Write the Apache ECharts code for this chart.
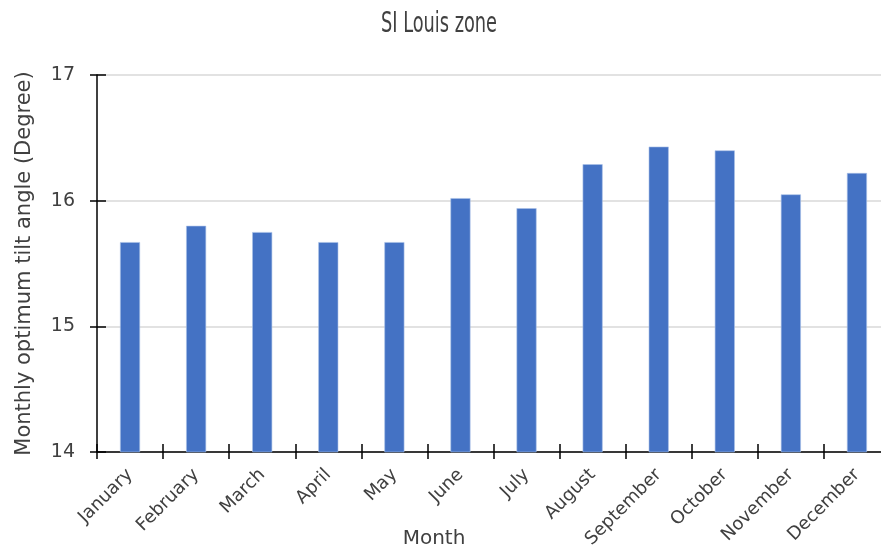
<!DOCTYPE html>
<html>
<head>
<meta charset="utf-8">
<script src="https://cdn.jsdelivr.net/npm/echarts@6/dist/echarts.min.js"></script>
<style>html,body{margin:0;padding:0;background:#fff;}#c{width:881px;height:554px;}</style>
</head>
<body>
<div id="c"></div>
<script>
const titleText = 'SI Louis zone';
const months = ['January','February','March','April','May','June','July','August','September','October','November','December'];
const tiltAngles = [15.67, 15.80, 15.75, 15.67, 15.67, 16.02, 15.94, 16.29, 16.43, 16.40, 16.05, 16.22];
const yMin = 14, yMax = 17, yStep = 1;
const xName = 'Month';
const yName = 'Monthly optimum tilt angle (Degree)';

const txt = '#404040';
const font = 'DejaVu Sans';

// condensed title: measure and squeeze horizontally
const titleFont = '29px "DejaVu Sans Condensed", "DejaVu Sans", sans-serif';
const cv = document.createElement('canvas').getContext('2d');
cv.font = titleFont;
const titleW = cv.measureText(titleText).width;
const titleScale = 116 / titleW;

const chart = echarts.init(document.getElementById('c'), null, {renderer: 'canvas'});
chart.setOption({
  animation: false,
  backgroundColor: '#fff',
  graphic: [{
    type: 'text', x: 439, y: 24, scaleX: titleScale, scaleY: 1,
    style: {text: titleText, font: titleFont, fill: txt, align: 'center', verticalAlign: 'middle'}
  }, {
    type: 'text', x: 434, y: 539,
    style: {text: xName, font: '20px "DejaVu Sans"', fill: txt, align: 'center', verticalAlign: 'middle'}
  }],
  grid: {left: 97, top: 75, right: -9, bottom: 102, outerBoundsMode: 'none', containLabel: false},
  xAxis: [{
    type: 'category', data: months,
    axisLine: {lineStyle: {color: '#000', width: 1.5}},
    axisTick: {show: true, interval: 0, length: 7, lineStyle: {color: '#000', width: 1.5}},
    axisLabel: {rotate: 45, fontFamily: font, fontSize: 18, color: txt, margin: 20, interval: 0}
  }, {
    type: 'category', data: months, position: 'bottom',
    axisLine: {show: false},
    axisTick: {show: true, interval: 0, inside: true, length: 8, lineStyle: {color: '#000', width: 1.5}},
    axisLabel: {show: false, interval: 0}, splitLine: {show: false}
  }],
  yAxis: [{
    type: 'value', min: yMin, max: yMax, interval: yStep,
    name: yName, nameLocation: 'middle', nameGap: 62,
    nameTextStyle: {fontFamily: font, fontSize: 21, color: txt},
    axisLine: {show: true, lineStyle: {color: '#000', width: 1.5}},
    axisTick: {show: true, length: 7, lineStyle: {color: '#000', width: 1.5}},
    axisLabel: {fontFamily: font, fontSize: 19, color: txt, margin: 22},
    splitLine: {lineStyle: {color: '#d9d9d9', width: 1.5}}
  }, {
    type: 'value', min: yMin, max: yMax, interval: yStep, position: 'left',
    axisLine: {show: false},
    axisTick: {show: true, inside: true, length: 9, lineStyle: {color: '#000', width: 1.5}},
    axisLabel: {show: false}, splitLine: {show: false}
  }],
  series: [{
    type: 'bar', data: tiltAngles, barWidth: 20, xAxisIndex: 0, yAxisIndex: 0,
    itemStyle: {color: '#4472c4', borderColor: '#a9c1e8', borderWidth: 0.6}
  }]
});
</script>
</body>
</html>
